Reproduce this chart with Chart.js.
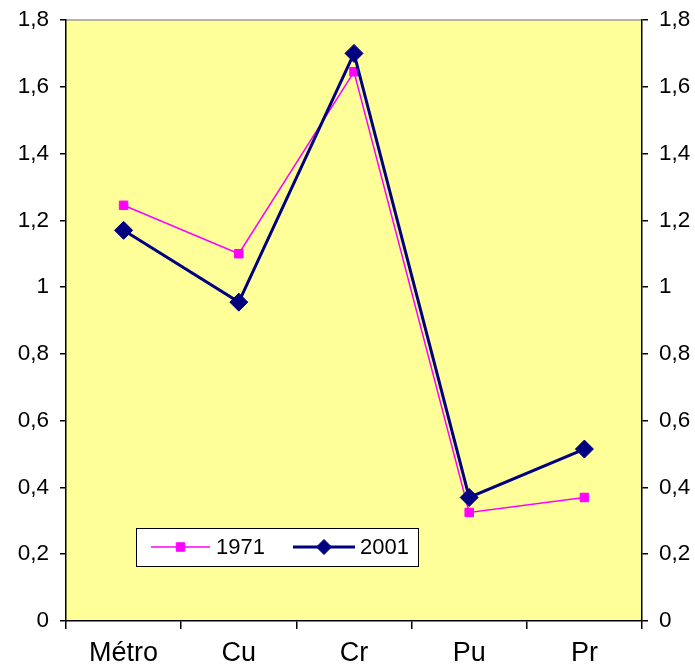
<!DOCTYPE html>
<html>
<head>
<meta charset="utf-8">
<script src="https://cdn.jsdelivr.net/npm/chart.js@4/dist/chart.umd.min.js"></script>
<style>
    html, body { margin: 0; padding: 0; background: #ffffff; }
    #wrap { width: 695px; height: 670px; }
</style>
</head>
<body>
<div id="wrap"><canvas id="chart" width="695" height="670"></canvas></div>
<script>
const categories = ['Métro', 'Cu', 'Cr', 'Pu', 'Pr'];
const values1971 = [1.245, 1.10, 1.645, 0.325, 0.37];
const values2001 = [1.17, 0.955, 1.70, 0.37, 0.515];
const yTickLabels = ['0', '0,2', '0,4', '0,6', '0,8', '1', '1,2', '1,4', '1,6', '1,8'];

const FONT = "'Liberation Sans', Arial, sans-serif";

// plot background, top border and the boxed legend inside the plot area
const plotDecor = {
    id: 'plotDecor',
    beforeDraw(chart) {
        const { ctx, chartArea: a } = chart;
        ctx.save();
        ctx.fillStyle = '#ffff99';
        ctx.fillRect(a.left, a.top, a.right - a.left, a.bottom - a.top);
        ctx.strokeStyle = '#9a9a9a';
        ctx.lineWidth = 1.5;
        ctx.beginPath();
        ctx.moveTo(a.left, a.top);
        ctx.lineTo(a.right, a.top);
        ctx.stroke();
        ctx.restore();
    },
    afterDraw(chart) {
        const { ctx, chartArea: a } = chart;
        const bx = a.left + 70, by = a.bottom - 93, bw = 282, bh = 38;
        ctx.save();
        ctx.fillStyle = '#ffffff';
        ctx.fillRect(bx, by, bw, bh);
        ctx.strokeStyle = '#000000';
        ctx.lineWidth = 1;
        ctx.strokeRect(bx + 0.5, by + 0.5, bw, bh);
        const cy = by + bh / 2;
        const items = [
            { ds: chart.data.datasets[1], r: 6, x0: bx + 15, x1: bx + 74, tx: bx + 80 },
            { ds: chart.data.datasets[0], r: 7.5, x0: bx + 157, x1: bx + 219, tx: bx + 224 }
        ];
        items.forEach(it => {
            ctx.strokeStyle = it.ds.borderColor;
            ctx.lineWidth = it.ds.borderWidth;
            ctx.beginPath();
            ctx.moveTo(it.x0, cy);
            ctx.lineTo(it.x1, cy);
            ctx.stroke();
            ctx.fillStyle = it.ds.backgroundColor;
            ctx.lineWidth = 1;
            Chart.helpers.drawPoint(ctx, {
                pointStyle: it.ds.pointStyle,
                radius: it.r,
                borderWidth: 1
            }, (it.x0 + it.x1) / 2, cy);
            ctx.fillStyle = '#000000';
            ctx.font = '22px ' + FONT;
            ctx.textBaseline = 'middle';
            ctx.textAlign = 'left';
            ctx.fillText(it.ds.label, it.tx, cy + 1);
        });
        ctx.restore();
    }
};

function fitY(width) {
    return function (scale) {
        scale.width = width;
        scale.paddingTop = 0;
        scale.paddingBottom = 0;
    };
}

new Chart(document.getElementById('chart').getContext('2d'), {
    type: 'line',
    data: {
        labels: categories,
        datasets: [
            {
                label: '2001',
                data: values2001,
                borderColor: '#000080',
                backgroundColor: '#000080',
                borderWidth: 3,
                pointStyle: 'rectRot',
                pointRadius: 9,
                pointBorderWidth: 1,
                tension: 0,
                order: 0
            },
            {
                label: '1971',
                data: values1971,
                borderColor: '#ff00ff',
                backgroundColor: '#ff00ff',
                borderWidth: 1.5,
                pointStyle: 'rect',
                pointRadius: 6,
                pointBorderWidth: 1,
                tension: 0,
                order: 1
            }
        ]
    },
    options: {
        responsive: false,
        animation: false,
        layout: { padding: { top: 20, bottom: 0, left: 0, right: 0 } },
        plugins: {
            legend: { display: false },
            tooltip: { enabled: false }
        },
        scales: {
            x: {
                offset: true,
                grid: {
                    offset: true,
                    drawOnChartArea: false,
                    drawTicks: true,
                    tickLength: 8,
                    color: '#000000',
                    lineWidth: 1.5
                },
                border: { color: '#000000', width: 1.5 },
                ticks: {
                    color: '#000000',
                    font: { family: FONT, size: 27 },
                    padding: 8,
                    maxRotation: 0,
                    autoSkip: false
                },
                afterFit(scale) {
                    scale.height = 49;
                    scale.paddingLeft = 0;
                    scale.paddingRight = 0;
                }
            },
            y: {
                position: 'left',
                min: 0,
                max: 1.8,
                ticks: {
                    stepSize: 0.2,
                    color: '#000000',
                    font: { family: FONT, size: 22.5 },
                    padding: 11,
                    callback: (v, i) => yTickLabels[i]
                },
                grid: {
                    drawOnChartArea: false,
                    drawTicks: true,
                    tickLength: 6,
                    color: '#000000',
                    lineWidth: 1.5
                },
                border: { color: '#000000', width: 1.5 },
                afterFit: fitY(66)
            },
            y2: {
                position: 'right',
                min: 0,
                max: 1.8,
                ticks: {
                    stepSize: 0.2,
                    color: '#000000',
                    font: { family: FONT, size: 22.5 },
                    padding: 11,
                    callback: (v, i) => yTickLabels[i]
                },
                grid: {
                    drawOnChartArea: false,
                    drawTicks: true,
                    tickLength: 6,
                    color: '#000000',
                    lineWidth: 1.5
                },
                border: { color: '#000000', width: 1.5 },
                afterFit: fitY(53)
            }
        }
    },
    plugins: [plotDecor]
});
</script>
</body>
</html>
